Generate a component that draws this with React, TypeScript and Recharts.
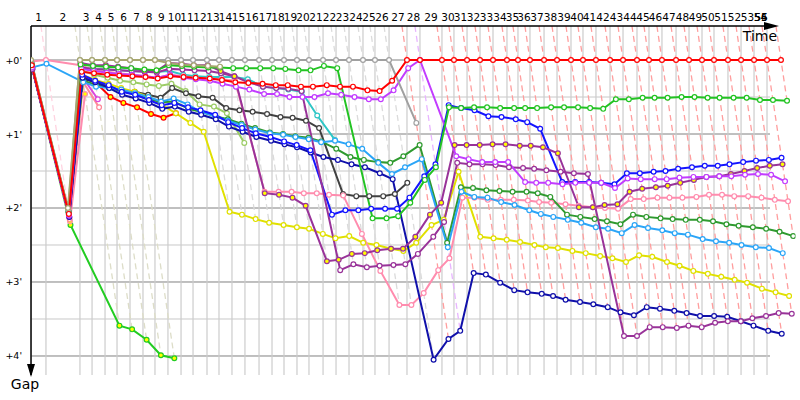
import React from 'react';
import { LineChart, Line, XAxis, YAxis } from 'recharts';

type G = number | null;
const _ = null;

// Race time (minutes) at which the leader completed each lap, laps 1..56
const leaderTimes = [
  0.0, 1.36, 4.45, 5.55, 6.73, 7.82, 9.0, 10.18, 11.27, 12.45,
  13.64, 14.73, 16.0, 17.09, 18.27, 19.45, 20.73, 21.91, 23.0, 24.18,
  25.27, 26.55, 27.73, 28.91, 30.18, 31.27, 32.55, 34.18, 35.36, 37.36,
  38.45, 39.64, 40.82, 42.0, 43.27, 44.27, 45.36, 46.64, 47.82, 49.09,
  50.18, 51.36, 52.64, 53.82, 55.09, 56.18, 57.36, 58.64, 59.82, 61.0,
  62.09, 63.36, 64.55, 65.73, 66.91, 68.18,
];

const lapLabels = [
  '1', '2', '3', '4', '5', '6', '7', '8', '9', '10',
  '11', '12', '13', '14', '15', '16', '17', '18', '19', '20',
  '21', '22', '23', '24', '25', '26', '27', '28', '29', '30',
  '31', '32', '33', '34', '35', '36', '37', '38', '39', '40',
  '41', '42', '43', '44', '45', '46', '47', '48', '49', '50',
  '51', '52', '53', '54', '55', '56',
];

const gapTicks = [0, 1, 2, 3, 4];
const gapTickLabels = ["+0'", "+1'", "+2'", "+3'", "+4'"];
const gridGaps = [0, 0.5, 1, 1.5, 2, 2.5, 3, 3.5, 4];

// Gap to leader (minutes) per lap, from lap 1
const redGaps: G[] = [
  0.07, 2.08, 0.16, 0.18, 0.2, 0.21, 0.22, 0.23, 0.25, 0.22,
  0.23, 0.24, 0.25, 0.27, 0.3, 0.31, 0.32, 0.34, 0.34, 0.36,
  0.36, 0.34, 0.36, 0.36, 0.41, 0.42, 0.28, 0, 0, 0,
  0, 0, 0, 0, 0, 0, 0, 0, 0, 0,
  0, 0, 0, 0, 0, 0, 0, 0, 0, 0,
  0, 0, 0, 0, 0, 0,
];
const grayGaps: G[] = [
  0.02, 2.02, 0, 0, 0, 0, 0, 0, 0, 0,
  0, 0, 0, 0, 0, 0, 0, 0, 0, 0,
  0, 0, 0, 0, 0, 0, 0, 0.85,
];
const oliveGaps: G[] = [0, 2.0, 0, 0, 0, 0, 0, 0, 0, 0.04, 0.06, 0.07, 0.08, 0.09];
const greenGaps: G[] = [
  0.05, 2.05, 0.06, 0.08, 0.09, 0.1, 0.11, 0.13, 0.14, 0.07,
  0.08, 0.09, 0.1, 0.1, 0.11, 0.11, 0.11, 0.11, 0.12, 0.14,
  0.14, 0.08, 0.11, 2.14, 2.14, 2.11, 1.93, 1.62, 1.45, 0.64,
  0.65, 0.64, 0.64, 0.65, 0.65, 0.65, 0.65, 0.64, 0.64, 0.64,
  0.65, 0.66, 0.53, 0.53, 0.51, 0.51, 0.51, 0.5, 0.5, 0.51,
  0.51, 0.51, 0.51, 0.54, 0.54, 0.55,
];
const violetGaps: G[] = [
  0.1, 2.1, 0.12, 0.15, 0.17, 0.19, 0.2, 0.22, 0.24, 0.2,
  0.24, 0.26, 0.28, 0.32, 0.36, 0.4, 0.46, 0.46, 0.5, 0.5,
  0.5, 0.45, 0.47, 0.5, 0.53, 0.53, 0.41, 0.11, 0, 1.3,
  1.34, 1.38, 1.38, 1.38, 1.65, 1.66, 1.66, 1.68, 1.66, 1.66,
  1.66, 1.73, 1.6, 1.61, 1.61, 1.61, 1.59, 1.58, 1.58, 1.57,
  1.57, 1.55, 1.54, 1.55, 1.64,
];
const purpleYGaps: G[] = [
  0.03, 2.05, 0.04, 0.07, 0.07, 0.09, 0.11, 0.15, 0.15, 0.04,
  0.05, 0.07, 0.07, 0.15, 0.22, 1.8, 1.82, 1.86, 1.97, 2.72,
  2.7, 2.62, 2.61, 2.57, 2.55, 2.55, 2.39, 2.09, 1.93, 1.15,
  1.15, 1.15, 1.14, 1.14, 1.16, 1.16, 1.18, 1.26, 1.99, 1.99,
  1.96, 1.95, 1.78, 1.74, 1.72, 1.7, 1.66, 1.62, 1.58, 1.57,
  1.54, 1.5, 1.46, 1.43, 1.41,
];
const purpleWGaps: G[] = [
  0.12, 2.1, 0.1, 0.12, 0.13, 0.14, 0.15, 0.16, 0.17, 0.12,
  0.13, 0.14, 0.15, 0.18, 0.22, 0.3, 0.36, 0.38, 0.39, 0.42,
  2.84, 2.76, 2.8, 2.78, 2.77, 2.76, 2.62, 2.39, 2.19, 1.39,
  1.41, 1.41, 1.42, 1.45, 1.46, 1.47, 1.49, 1.51, 1.53, 1.54,
  3.73, 3.73, 3.61, 3.61, 3.62, 3.59, 3.61, 3.55, 3.53, 3.53,
  3.49, 3.46, 3.42, 3.43,
];
const blueGaps: G[] = [
  0.1, 2.1, 0.2, 0.28, 0.34, 0.43, 0.47, 0.54, 0.61, 0.58,
  0.64, 0.68, 0.74, 0.84, 0.92, 0.99, 1.04, 1.1, 1.15, 1.22,
  2.09, 2.03, 2.03, 2.01, 2.01, 2.01, 1.86, 1.57, 1.41, 0.61,
  0.65, 0.68, 0.76, 0.77, 0.8, 0.84, 0.93, 1.65, 1.65, 1.65,
  1.66, 1.68, 1.53, 1.53, 1.51, 1.5, 1.47, 1.45, 1.43, 1.43,
  1.41, 1.38, 1.36, 1.35, 1.32,
];
const navyGaps: G[] = [
  0.12, 2.12, 0.24, 0.3, 0.38, 0.47, 0.52, 0.58, 0.66, 0.63,
  0.7, 0.74, 0.8, 0.9, 0.97, 1.04, 1.09, 1.14, 1.18, 1.25,
  1.31, 1.35, 1.41, 1.45, 1.53, 1.61, 4.05, 3.77, 3.66, 2.88,
  2.9, 3.01, 3.11, 3.14, 3.16, 3.19, 3.24, 3.27, 3.3, 3.34,
  3.41, 3.45, 3.34, 3.36, 3.39, 3.42, 3.46, 3.46, 3.47, 3.53,
  3.59, 3.66, 3.7,
];
const skyGaps: G[] = [
  0.1, 0.05, 0.3, 0.36, 0.38, 0.4, 0.45, 0.5, 0.56, 0.52,
  0.6, 0.7, 0.76, 0.82, 0.88, 0.94, 0.99, 1.01, 1.04, 1.07,
  1.11, 1.09, 1.14, 1.2, 1.39, 1.54, 1.45, 1.34, 2.53, 1.78,
  1.85, 1.86, 1.92, 1.96, 2.03, 2.08, 2.12, 2.16, 2.2, 2.26,
  2.28, 2.34, 2.23, 2.27, 2.3, 2.34, 2.36, 2.42, 2.45, 2.47,
  2.5, 2.53, 2.54, 2.61,
];
const darkGreenGaps: G[] = [
  0.1, 2.08, 0.28, 0.33, 0.38, 0.42, 0.46, 0.52, 0.57, 0.56,
  0.66, 0.7, 0.76, 0.8, 0.86, 0.92, 0.98, 1.0, 1.03, 1.05,
  1.1, 1.2, 1.31, 1.35, 1.38, 1.39, 1.3, 1.15, 2.47, 1.72,
  1.73, 1.76, 1.77, 1.78, 1.78, 1.8, 1.85, 2.09, 2.12, 2.15,
  2.18, 2.22, 2.09, 2.12, 2.14, 2.15, 2.16, 2.16, 2.18, 2.22,
  2.24, 2.26, 2.28, 2.32, 2.38,
];
const pinkGaps: G[] = [
  0.02, 0, 0.07, 0.14, 0.16, 0.18, 0.2, 0.22, 0.24, 0.2,
  0.22, 0.24, 0.25, 0.26, 0.28, 1.78, 1.78, 1.78, 1.8, 1.8,
  1.82, 1.83, 2.35, 2.85, 3.31, 3.31, 3.15, 2.84, 2.68, 1.86,
  1.86, 1.89, 1.89, 1.89, 1.9, 1.92, 1.93, 1.95, 1.97, 1.99,
  2.0, 2.01, 1.88, 1.88, 1.86, 1.86, 1.86, 1.85, 1.82, 1.82,
  1.84, 1.84, 1.86, 1.89, 1.91,
];
const yellowGaps: G[] = [
  0.1, 2.1, 0.2, 0.27, 0.32, 0.38, 0.43, 0.5, 0.6, 0.72,
  0.85, 0.97, 2.05, 2.09, 2.15, 2.2, 2.23, 2.26, 2.28, 2.35,
  2.41, 2.38, 2.47, 2.5, 2.55, 2.58, 2.47, 2.23, 2.16, 1.51,
  2.39, 2.41, 2.43, 2.46, 2.5, 2.53, 2.54, 2.58, 2.61, 2.65,
  2.68, 2.73, 2.64, 2.66, 2.73, 2.78, 2.85, 2.89, 2.93, 2.97,
  3.01, 3.09, 3.14, 3.19,
];
const darkGrayGaps: G[] = [
  0.1, 2.1, 0.25, 0.3, 0.36, 0.41, 0.43, 0.47, 0.51, 0.38,
  0.45, 0.49, 0.51, 0.65, 0.68, 0.7, 0.73, 0.77, 0.78, 0.82,
  0.92, 1.81, 1.84, 1.84, 1.84, 1.81, 1.66,
];
const lightGreenGaps: G[] = [
  0.08, 2.1, 0.14, 0.2, 0.24, 0.28, 0.3, 0.33, 0.35, 0.32,
  0.42, 0.6, 0.63, 0.72, 1.12,
];
const tealGaps: G[] = [
  0.05, 2.05, 0.1, 0.12, 0.13, 0.14, 0.15, 0.16, 0.16, 0.15,
  0.2, 0.22, 0.23, 0.23, 0.23, 0.26, 0.36, 0.38, 0.4, 0.43,
  0.75, 1.08,
];
const limeGaps: G[] = [0.1, 2.23, 3.59, 3.64, 3.78, 3.99, 4.03];
const redYGaps: G[] = [0.08, 2.1, 0.23, 0.3, 0.5, 0.58, 0.64, 0.73, 0.78, 0.72];
const magentaGaps: G[] = [0.1, 2.12, 0.23, 0.53];
const pink2Gaps: G[] = [0.12, 2.15, 0.3, 0.64];
const pinkYGaps: G[] = [0.06, 2.18, 0.46];

const C = {
  red: '#ff0000', gray: '#a0a0a0', olive: '#a6a66e', green: '#22c322',
  violet: '#c23cff', purple: '#993399', blue: '#1414ff', navy: '#1010aa',
  sky: '#2ba5f7', darkGreen: '#2f9a2f', pink: '#ff8cae', yellow: '#e0e000',
  darkGray: '#404040', lightGreen: '#9ccc66', teal: '#2fc6c6', lime: '#22cc22',
  magenta: '#dd44dd', pink2: '#ff8899',
};

const W = '#ffffff';
const Y = '#ffff00';

const series = [
  { key: 'lime', gaps: limeGaps, color: C.lime, fill: Y },
  { key: 'pinkY', gaps: pinkYGaps, color: C.pink, fill: Y },
  { key: 'pink2', gaps: pink2Gaps, color: C.pink2, fill: W },
  { key: 'magenta', gaps: magentaGaps, color: C.magenta, fill: W },
  { key: 'lightGreen', gaps: lightGreenGaps, color: C.lightGreen, fill: W },
  { key: 'teal', gaps: tealGaps, color: C.teal, fill: W },
  { key: 'darkGray', gaps: darkGrayGaps, color: C.darkGray, fill: W },
  { key: 'redY', gaps: redYGaps, color: C.red, fill: Y },
  { key: 'yellow', gaps: yellowGaps, color: C.yellow, fill: W },
  { key: 'pink', gaps: pinkGaps, color: C.pink, fill: W },
  { key: 'darkGreen', gaps: darkGreenGaps, color: C.darkGreen, fill: W },
  { key: 'sky', gaps: skyGaps, color: C.sky, fill: W },
  { key: 'navy', gaps: navyGaps, color: C.navy, fill: W },
  { key: 'blue', gaps: blueGaps, color: C.blue, fill: W },
  { key: 'purpleW', gaps: purpleWGaps, color: C.purple, fill: W },
  { key: 'purpleY', gaps: purpleYGaps, color: C.purple, fill: Y },
  { key: 'violet', gaps: violetGaps, color: C.violet, fill: W },
  { key: 'green', gaps: greenGaps, color: C.green, fill: W },
  { key: 'gray', gaps: grayGaps, color: C.gray, fill: W },
  { key: 'olive', gaps: oliveGaps, color: C.olive, fill: W },
  { key: 'red', gaps: redGaps, color: C.red, fill: W },
];

// candidates for the lap leader (ties resolved in this order)
const leaderOrder = [
  { gaps: oliveGaps, color: C.olive },
  { gaps: violetGaps, color: C.violet },
  { gaps: pinkGaps, color: C.pink },
  { gaps: grayGaps, color: C.gray },
  { gaps: redGaps, color: C.red },
];

const Y_TOP = -0.4595;
const Y_BOTTOM = 4.2568;
const X_MAX = 69.5;
const GRID_END = 67.18;
const LABEL_MAX = 66.36;
const FONT = '"DejaVu Sans", Verdana, sans-serif';

function toPoints(gaps: G[]) {
  const pts: { t: number; g: number }[] = [];
  gaps.forEach((g, i) => {
    if (g !== null && g !== undefined && i < leaderTimes.length) {
      pts.push({ t: leaderTimes[i] + g, g });
    }
  });
  return pts;
}

function lighten(hex: string, amt: number) {
  const n = parseInt(hex.slice(1), 16);
  const r = (n >> 16) & 255, g = (n >> 8) & 255, b = n & 255;
  const f = (c: number) => Math.round(c + (255 - c) * amt);
  return `rgb(${f(r)},${f(g)},${f(b)})`;
}

const labelTimes = leaderTimes.map((t, i) => {
  const next = i + 1 < leaderTimes.length ? leaderTimes[i + 1] : t + 1.2;
  return Math.min((t + next) / 2, LABEL_MAX + (i - 54) * 0.01 * (i >= 54 ? 1 : 0));
});

function lapLeaderColor(i: number) {
  let best: { g: number; color: string } | null = null;
  for (const c of leaderOrder) {
    const g = c.gaps[i];
    if (g === null || g === undefined) continue;
    if (best === null || g < best.g) best = { g, color: c.color };
  }
  return best ? best.color : C.red;
}

function lapMaxGap(i: number) {
  let m = 0;
  for (const s of series) {
    const g = s.gaps[i];
    if (g !== null && g !== undefined && g > m) m = g;
  }
  return m;
}

const XTick = (props: any) => {
  const { x, index } = props;
  return (
    <text x={x} y={21} textAnchor="middle" fontSize={10.5} fontFamily={FONT} fill="#000">
      {lapLabels[index]}
    </text>
  );
};

const YTick = (props: any) => {
  const { y, payload } = props;
  const idx = gapTicks.indexOf(payload.value);
  return (
    <text x={22} y={y + 3.5} textAnchor="end" fontSize={9.5} fontFamily={FONT} fill="#000">
      {gapTickLabels[idx]}
    </text>
  );
};

export default function App() {
  const common = {
    dataKey: 'g',
    type: 'linear' as const,
    dot: false,
    activeDot: false,
    isAnimationActive: false,
    legendType: 'none' as const,
  };

  const hGrid = gridGaps.map((v) => (
    <Line
      key={`h${v}`}
      {...common}
      data={[{ t: 0, g: v }, { t: GRID_END, g: v }]}
      stroke={Number.isInteger(v) ? '#808080' : '#c8c8c8'}
      strokeWidth={1}
    />
  ));

  const vGrid = leaderTimes
    .filter((t) => t <= GRID_END)
    .map((t, i) => (
      <Line
        key={`v${i}`}
        {...common}
        data={[{ t, g: Y_TOP }, { t, g: Y_BOTTOM }]}
        stroke="#cccccc"
        strokeWidth={1.2}
      />
    ));

  const isoLines = leaderTimes.slice(1).map((T, k) => {
    const i = k + 1;
    const mg = lapMaxGap(i);
    return (
      <Line
        key={`iso${i}`}
        {...common}
        data={[{ t: T + Y_TOP, g: Y_TOP }, { t: T + mg, g: mg }]}
        stroke={lighten(lapLeaderColor(i), 0.62)}
        strokeWidth={1.3}
        strokeDasharray="6 4"
      />
    );
  });

  const seriesLines = series.map((s) => (
    <Line
      key={s.key}
      {...common}
      data={toPoints(s.gaps)}
      stroke={s.color}
      strokeWidth={2}
      dot={{ r: 2.4, fill: s.fill, stroke: s.color, strokeWidth: 1.2 }}
    />
  ));

  return (
    <div style={{ position: 'absolute', left: 0, top: 0, width: 800, height: 400, background: '#fff' }}>
      <LineChart width={800} height={400} margin={{ top: 0, right: 4.5, bottom: 25, left: 0 }}>
        <XAxis
          dataKey="t"
          type="number"
          orientation="top"
          domain={[0, X_MAX]}
          allowDataOverflow
          ticks={labelTimes}
          interval={0}
          tick={<XTick />}
          axisLine={false}
          tickLine={false}
          height={26}
        />
        <YAxis
          type="number"
          domain={[Y_TOP, Y_BOTTOM]}
          allowDataOverflow
          reversed
          ticks={gapTicks}
          interval={0}
          tick={<YTick />}
          axisLine={{ stroke: '#000', strokeWidth: 1.5 }}
          tickLine={false}
          width={31}
        />
        {hGrid}
        {vGrid}
        {isoLines}
        {seriesLines}
      </LineChart>
      <svg
        width={800}
        height={400}
        style={{ position: 'absolute', left: 0, top: 0, pointerEvents: 'none' }}
      >
        <line x1={31} y1={26} x2={768} y2={26} stroke="#000" strokeWidth={1.5} />
        <polygon points="764,22 779,26 764,30" fill="#000" />
        <polygon points="27,364 31,377 35,364" fill="#000" />
        <text x={760} y={41} textAnchor="middle" fontSize={14} fontFamily={FONT} fill="#000">
          Time
        </text>
        <text x={25} y={389} textAnchor="middle" fontSize={14} fontFamily={FONT} fill="#000">
          Gap
        </text>
      </svg>
    </div>
  );
}
